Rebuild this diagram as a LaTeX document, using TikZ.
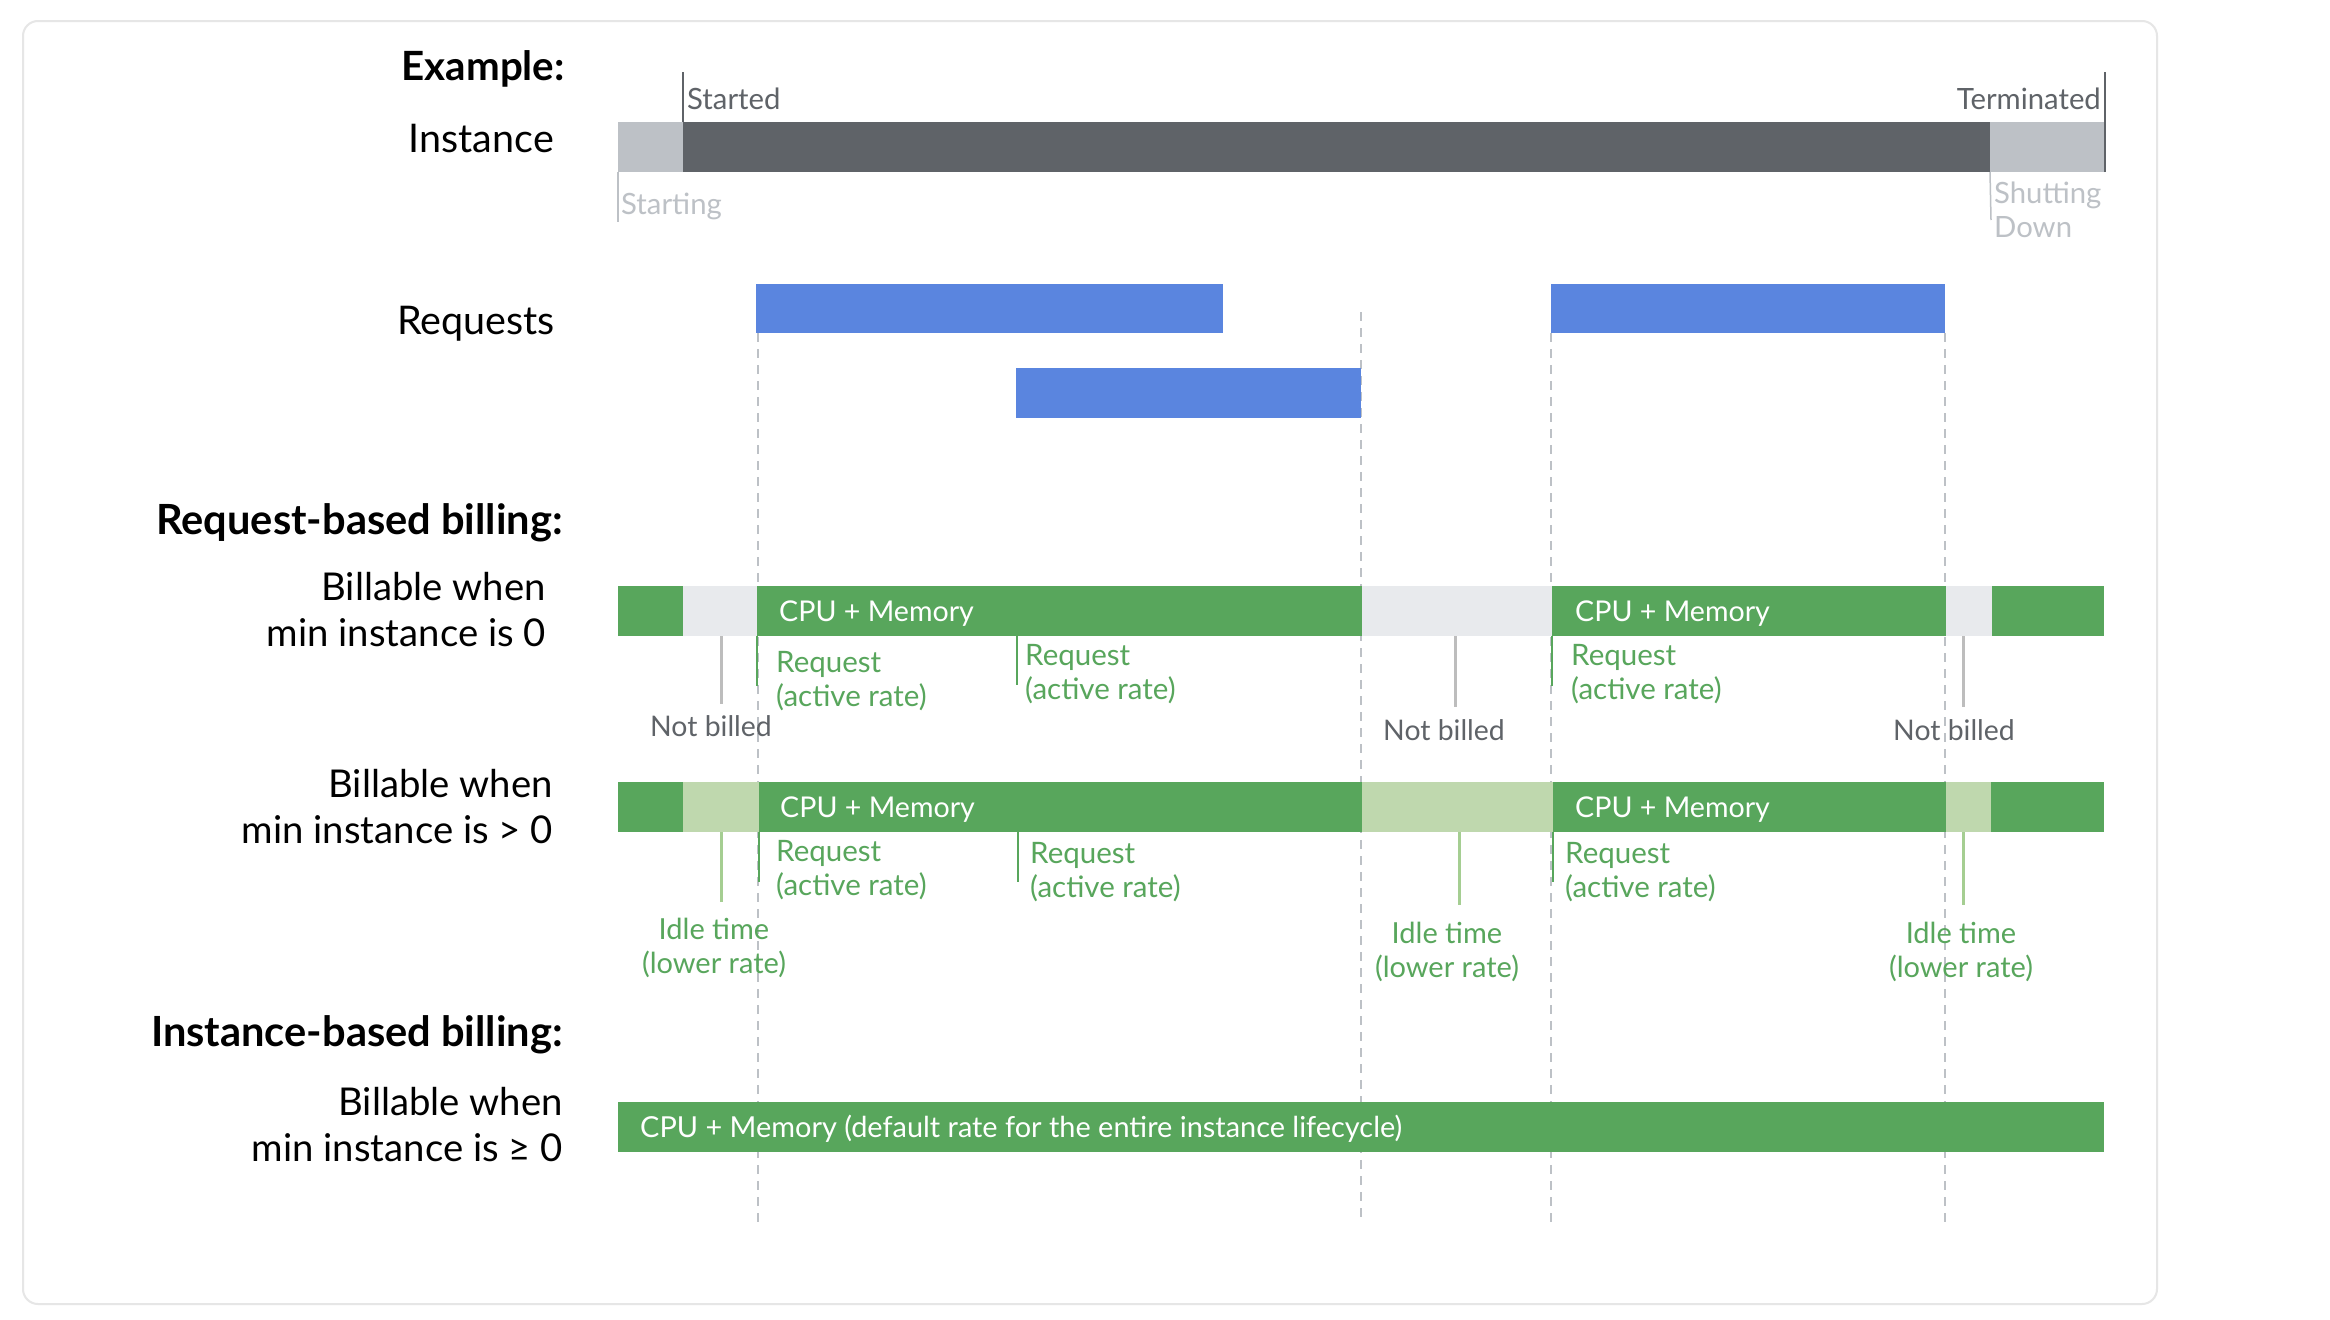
\documentclass[tikz,border=0pt]{standalone}
\usepackage{fontspec}
\setmainfont{Lato}
\definecolor{gdark}{HTML}{5F6368}
\definecolor{glight}{HTML}{BDC1C6}
\definecolor{rqblue}{HTML}{5A85DF}
\definecolor{bgreen}{HTML}{58A65C}
\definecolor{lgreen}{HTML}{BFD8AE}
\definecolor{lgray}{HTML}{E8EAED}
\definecolor{tgray}{HTML}{BDBDBD}
\definecolor{igreen}{HTML}{A5CE92}
\definecolor{boxline}{HTML}{E6E6E6}
\begin{document}
\begin{tikzpicture}[x=1pt,y=-1pt,
  seg/.style={inner sep=0pt, outer sep=0pt, anchor=north west, minimum height=50pt, draw=none},
  gseg/.style={seg, fill=bgreen},
  lgseg/.style={seg, fill=lgray},
  lgrseg/.style={seg, fill=lgreen},
  rq/.style={seg, fill=rqblue},
  biglbl/.style={inner sep=0pt, font=\fontsize{39.5}{46}\selectfont, text=black},
  billlbl/.style={inner sep=0pt, font=\fontsize{38.3}{46}\selectfont, align=right, text=black, anchor=north east},
  boldlbl/.style={inner sep=0pt, font=\fontsize{41.6}{46}\selectfont\bfseries, text=black},
  bartxt/.style={inner sep=0pt, font=\fontsize{28.6}{34}\selectfont, text=white, anchor=base west},
  grtxt/.style={inner sep=0pt, font=\fontsize{29.5}{34}\selectfont, text=bgreen, align=left, anchor=north west},
  nbtxt/.style={inner sep=0pt, font=\fontsize{28.4}{34}\selectfont, text=gdark, anchor=base},
  idtxt/.style={inner sep=0pt, font=\fontsize{29}{34}\selectfont, text=bgreen, align=center, anchor=north},
  smtxt/.style={inner sep=0pt, font=\fontsize{29.3}{34}\selectfont},
  dashln/.style={draw=glight, line width=2pt, dash pattern=on 9pt off 7pt},
  nbtick/.style={draw=tgray, line width=3pt},
  idtick/.style={draw=igreen, line width=3pt},
  rqtick/.style={draw=bgreen, line width=1.5pt},
]
\useasboundingbox (0,0) rectangle (2330,1320);
\fill[white] (0,0) rectangle (2330,1320);
\draw[boxline, line width=2pt, rounded corners=15pt] (23,21) rectangle (2157,1304);

% ---------- left labels
\node[boldlbl, anchor=base east, font=\fontsize{40.3}{46}\selectfont\bfseries] (ex) at (565,80) {Example:};
\node[biglbl, anchor=base east] (inst) at (554,152) {Instance};
\node[biglbl, anchor=base east] (reqs) at (555,334.5) {Requests};
\node[boldlbl, anchor=base east] (rbb) at (563,534.5) {Request-based billing:};
\node[billlbl] (bw1) at (546,572) {Billable when\\min instance is 0};
\node[billlbl] (bw2) at (553,769) {Billable when\\min instance is > 0};
\node[boldlbl, anchor=base east] (ibb) at (563,1046.5) {Instance-based billing:};
\node[billlbl] (bw3) at (563,1087) {Billable when\\min instance is ≥ 0};

% ---------- instance bar
\node[seg, fill=glight, minimum width=65pt] (i1) at (618,122) {};
\node[seg, fill=gdark, minimum width=1307pt] (i2) at (683,122) {};
\node[seg, fill=glight, minimum width=115pt] (i3) at (1990,122) {};
\coordinate (stTop) at (683,72);
\coordinate (teTop) at (2105,72);
\coordinate (sgBot) at (618,222);
\coordinate (sdBot) at (1991,220);
\draw[gdark, line width=2pt] (i2.north west) -- (stTop);
\draw[gdark, line width=2pt] (i3.south east) -- (teTop);
\draw[glight, line width=1.5pt] (i1.south west) -- (sgBot);
\draw[glight, line width=1.5pt] (i3.south west) -- (sdBot);
\node[smtxt, text=gdark, anchor=base west] (started) at (687,109.5) {Started};
\node[smtxt, text=gdark, anchor=base east] (term) at (2101,109.5) {Terminated};
\node[smtxt, text=glight, anchor=base west] (starting) at (621,214.5) {Starting};
\node[smtxt, text=glight, anchor=north west, align=left] (shut) at (1994,182) {Shutting\\Down};

% ---------- dashed guide lines
\coordinate (d1) at (758,1222);
\coordinate (d2t) at (1361,312);
\coordinate (d2) at (1361,1222);
\coordinate (d3) at (1551,1222);
\coordinate (d4) at (1945,1222);
\draw[dashln] (758,333) -- (d1);
\draw[dashln] (d2t) -- (d2);
\draw[dashln] (1551,333) -- (d3);
\draw[dashln] (1945,333) -- (d4);

% ---------- requests
\node[rq, minimum width=467pt, minimum height=49pt] (q1) at (756,284) {};
\node[rq, minimum width=345pt] (q2) at (1016,368) {};
\node[rq, minimum width=394pt, minimum height=49pt] (q3) at (1551,284) {};

% ---------- row 1: min instance 0
\node[gseg, minimum width=65pt] (a1) at (618,586) {};
\node[lgseg, minimum width=74pt] (a2) at (683,586) {};
\node[gseg, minimum width=605pt] (a3) at (757,586) {};
\node[lgseg, minimum width=190pt] (a4) at (1362,586) {};
\node[gseg, minimum width=394pt] (a5) at (1552,586) {};
\node[lgseg, minimum width=46pt] (a6) at (1946,586) {};
\node[gseg, minimum width=112pt] (a7) at (1992,586) {};
\node[bartxt] (a3t) at (779,621) {CPU + Memory};
\node[bartxt] (a5t) at (1575,621) {CPU + Memory};

\draw[nbtick] (721,636) -- (721,704);
\draw[nbtick] (1455,636) -- (1455,707);
\draw[nbtick] (1963,636) -- (1963,707);
\node[nbtxt] (nb1) at (711,736) {Not billed};
\node[nbtxt] (nb2) at (1444,740.5) {Not billed};
\node[nbtxt] (nb3) at (1954,740.5) {Not billed};

\draw[rqtick] (a3.south west) -- ++(0,50);
\draw[rqtick] (1017,636) -- (1017,685);
\draw[rqtick] (a5.south west) -- ++(0,50);
\node[grtxt] (ra1) at (776,651) {Request\\(active rate)};
\node[grtxt] (ra2) at (1025,644) {Request\\(active rate)};
\node[grtxt] (ra3) at (1571,644) {Request\\(active rate)};

% ---------- row 2: min instance > 0
\node[gseg, minimum width=65pt] (b1) at (618,782) {};
\node[lgrseg, minimum width=76pt] (b2) at (683,782) {};
\node[gseg, minimum width=603pt] (b3) at (759,782) {};
\node[lgrseg, minimum width=191pt] (b4) at (1362,782) {};
\node[gseg, minimum width=393pt] (b5) at (1553,782) {};
\node[lgrseg, minimum width=45pt] (b6) at (1946,782) {};
\node[gseg, minimum width=113pt] (b7) at (1991,782) {};
\node[bartxt] (b3t) at (780,817) {CPU + Memory};
\node[bartxt] (b5t) at (1575,817) {CPU + Memory};

\draw[idtick] (721,832) -- (721,902);
\draw[idtick] (1459,832) -- (1459,905);
\draw[idtick] (1963,832) -- (1963,905);
\node[idtxt] (id1) at (714,918) {Idle time\\(lower rate)};
\node[idtxt] (id2) at (1447,921.5) {Idle time\\(lower rate)};
\node[idtxt] (id3) at (1961,921.5) {Idle time\\(lower rate)};

\draw[rqtick] (b3.south west) -- ++(0,50);
\draw[rqtick] (1018,832) -- (1018,882);
\draw[rqtick] (b5.south west) -- ++(0,50);
\node[grtxt] (rb1) at (776,840.5) {Request\\(active rate)};
\node[grtxt] (rb2) at (1030,842.5) {Request\\(active rate)};
\node[grtxt] (rb3) at (1565,842.5) {Request\\(active rate)};

% ---------- row 3: instance-based
\node[gseg, minimum width=1486pt] (c1) at (618,1102) {};
\node[bartxt, font=\fontsize{28.9}{34}\selectfont] (c1t) at (640,1137) {CPU + Memory (default rate for the entire instance lifecycle)};
\end{tikzpicture}
\end{document}
